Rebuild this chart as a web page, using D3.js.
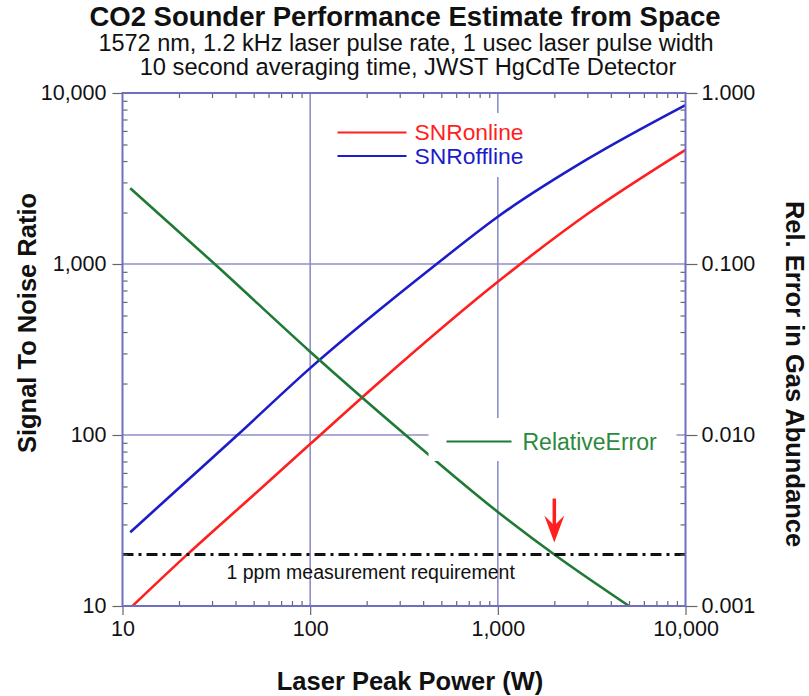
<!DOCTYPE html>
<html>
<head>
<meta charset="utf-8">
<script src="https://cdnjs.cloudflare.com/ajax/libs/d3/7.8.5/d3.min.js"></script>
<style>
  body { margin: 0; background: #fff; }
  svg { font-family: "Liberation Sans", Arial, sans-serif; }
</style>
</head>
<body>
<svg id="chart" width="809" height="696"></svg>
<script>
// Values
const titleLines = [
  "CO2 Sounder Performance Estimate from Space",
  "1572 nm, 1.2 kHz laser pulse rate, 1 usec laser pulse width",
  "10 second averaging time, JWST HgCdTe Detector"
];

const powerOffline = [11, 20, 41, 100, 472, 1000, 3000, 10000];
const snrOffline = [27, 49, 100, 246, 1000, 1890, 4100, 8500];

const powerOnline = [11.3, 21.8, 50, 100, 235, 1000, 3000, 10000];
const snrOnline = [10, 19.7, 44.6, 88.5, 205, 787, 1960, 4650];

const powerError = [11, 31, 100, 327, 1000, 2000, 5000];
const relativeError = [0.277, 0.1, 0.0307, 0.00987, 0.00355, 0.002, 0.001];

const requirementSNR = 20;       // 1 ppm line, left axis
const arrowPower = 2000;         // where green meets the requirement

const xTicks = [10, 100, 1000, 10000];
const yLeftTicks = [10, 100, 1000, 10000];
const yRightTicks = [0.001, 0.01, 0.1, 1];

const width = 563;
const height = 513;
const margin = { top: 93, left: 122.5 };

const frameColor = "#6e6ec4";
const gridColor = "#8f8fc9";
const redColor = "#ff1f1f";
const blueColor = "#1c1cc8";
const greenColor = "#1f7a35";

const svg = d3.select("#chart");
const g = svg.append("g").attr("transform", `translate(${margin.left},${margin.top})`);

// Scales
const x = d3.scaleLog().domain([10, 10000]).range([0, width]);
const yLeft = d3.scaleLog().domain([10, 10000]).range([height, 0]);
const yRight = d3.scaleLog().domain([0.001, 1]).range([height, 0]);

// Grid lines at inner decades
g.selectAll(".vgrid").data(xTicks.slice(1, -1)).enter().append("line")
  .attr("x1", d => x(d)).attr("x2", d => x(d))
  .attr("y1", 0).attr("y2", height)
  .attr("stroke", gridColor).attr("stroke-width", 1.6);

g.selectAll(".hgrid").data(yLeftTicks.slice(1, -1)).enter().append("line")
  .attr("x1", 0).attr("x2", width)
  .attr("y1", d => yLeft(d)).attr("y2", d => yLeft(d))
  .attr("stroke", gridColor).attr("stroke-width", 1.6);

// Curves
const line = d3.line().curve(d3.curveMonotoneX);

g.append("path")
  .attr("d", line(powerOnline.map((p, i) => [x(p), yLeft(snrOnline[i])])))
  .attr("fill", "none").attr("stroke", redColor).attr("stroke-width", 2.6);

g.append("path")
  .attr("d", line(powerOffline.map((p, i) => [x(p), yLeft(snrOffline[i])])))
  .attr("fill", "none").attr("stroke", blueColor).attr("stroke-width", 2.6);

g.append("path")
  .attr("d", line(powerError.map((p, i) => [x(p), yRight(relativeError[i])])))
  .attr("fill", "none").attr("stroke", greenColor).attr("stroke-width", 2.6);

// Requirement line (dash-dot)
g.append("line")
  .attr("x1", 0).attr("x2", width)
  .attr("y1", yLeft(requirementSNR)).attr("y2", yLeft(requirementSNR))
  .attr("stroke", "#111").attr("stroke-width", 3)
  .attr("stroke-dasharray", "11,5,3,5");

g.append("text")
  .attr("x", 104).attr("y", yLeft(requirementSNR) + 24)
  .attr("font-size", 19.5).attr("fill", "#111")
  .text("1 ppm measurement requirement");

// Red arrow pointing at the crossing
const ax = x(arrowPower);
const ay = yLeft(requirementSNR) - 12;
g.append("line")
  .attr("x1", ax).attr("x2", ax).attr("y1", ay - 44).attr("y2", ay - 14)
  .attr("stroke", redColor).attr("stroke-width", 3.5);
g.append("path")
  .attr("d", `M${ax},${ay} L${ax - 10},${ay - 27} L${ax},${ay - 17} L${ax + 10},${ay - 27} Z`)
  .attr("fill", redColor);

// Legend boxes (white, cover the grid)
g.append("rect").attr("x", 208).attr("y", 20).attr("width", 205).attr("height", 64).attr("fill", "#fff");
g.append("rect").attr("x", 306).attr("y", 325).attr("width", 248).attr("height", 43).attr("fill", "#fff");

const legendTop = [
  { name: "SNRonline", color: redColor, y: 39.5 },
  { name: "SNRoffline", color: blueColor, y: 63 }
];
legendTop.forEach(d => {
  g.append("line").attr("x1", 215).attr("x2", 284).attr("y1", d.y).attr("y2", d.y)
    .attr("stroke", d.color).attr("stroke-width", 2.2);
  g.append("text").attr("x", 292).attr("y", d.y + 7.5).attr("font-size", 21.5)
    .attr("textLength", 109).attr("lengthAdjust", "spacingAndGlyphs")
    .attr("fill", d.color).text(d.name);
});

g.append("line").attr("x1", 324).attr("x2", 389).attr("y1", 348.5).attr("y2", 348.5)
  .attr("stroke", greenColor).attr("stroke-width", 2.2);
g.append("text").attr("x", 400).attr("y", 356.5).attr("font-size", 23)
  .attr("fill", "#2b8a3c").text("RelativeError");

// Minor ticks pointing inward
const minorX = x.ticks().filter(d => !xTicks.includes(d));
const minorL = yLeft.ticks().filter(d => !yLeftTicks.includes(d));
const minorR = yRight.ticks().filter(d => !yRightTicks.some(t => Math.abs(t - d) < 1e-9));

g.append("g").attr("transform", `translate(0,${height})`)
  .call(d3.axisBottom(x).tickValues(minorX).tickSize(-5).tickFormat(""));
g.append("g")
  .call(d3.axisTop(x).tickValues(minorX).tickSize(-5).tickFormat(""));
g.append("g")
  .call(d3.axisLeft(yLeft).tickValues(minorL).tickSize(-5).tickFormat(""));
g.append("g").attr("transform", `translate(${width},0)`)
  .call(d3.axisRight(yRight).tickValues(minorR).tickSize(-5).tickFormat(""));

// Major axes with labels
const fmtComma = d3.format(",");
g.append("g").attr("class", "axis").attr("transform", `translate(0,${height})`)
  .call(d3.axisBottom(x).tickValues(xTicks).tickSize(9).tickSizeOuter(0).tickPadding(6).tickFormat(fmtComma));
g.append("g").attr("class", "axis")
  .call(d3.axisLeft(yLeft).tickValues(yLeftTicks).tickSize(10).tickSizeOuter(0).tickPadding(6).tickFormat(fmtComma));
g.append("g").attr("class", "axis").attr("transform", `translate(${width},0)`)
  .call(d3.axisRight(yRight).tickValues(yRightTicks).tickSize(12).tickSizeOuter(0).tickPadding(4).tickFormat(d3.format(".3f")));

g.selectAll(".domain").remove();
g.selectAll(".tick line").attr("stroke", "#666").attr("stroke-width", 1.2);
g.selectAll(".axis .tick text").attr("font-size", 21.5).attr("fill", "#111")
  .attr("font-family", "Liberation Sans, Arial, sans-serif");

// Frame
g.append("rect").attr("x", 0).attr("y", 0).attr("width", width).attr("height", height)
  .attr("fill", "none").attr("stroke", frameColor).attr("stroke-width", 2);

// Titles
svg.append("text").attr("x", 405).attr("y", 26).attr("text-anchor", "middle")
  .attr("font-size", 27.5).attr("font-weight", "bold").attr("fill", "#111").text(titleLines[0]);
svg.append("text").attr("x", 406).attr("y", 51).attr("text-anchor", "middle")
  .attr("font-size", 23.5).attr("fill", "#111").text(titleLines[1]);
svg.append("text").attr("x", 408).attr("y", 75).attr("text-anchor", "middle")
  .attr("font-size", 23.7).attr("fill", "#111").text(titleLines[2]);

svg.append("text").attr("x", 410).attr("y", 690).attr("text-anchor", "middle")
  .attr("font-size", 25.5).attr("font-weight", "bold").attr("fill", "#111")
  .text("Laser Peak Power (W)");

svg.append("text").attr("transform", "translate(36,323) rotate(-90)").attr("text-anchor", "middle")
  .attr("font-size", 25.5).attr("font-weight", "bold").attr("fill", "#111")
  .text("Signal To Noise Ratio");

svg.append("text").attr("transform", "translate(786,374) rotate(90)").attr("text-anchor", "middle")
  .attr("font-size", 25.5).attr("font-weight", "bold").attr("fill", "#111")
  .text("Rel. Error in Gas Abundance");
</script>
</body>
</html>
